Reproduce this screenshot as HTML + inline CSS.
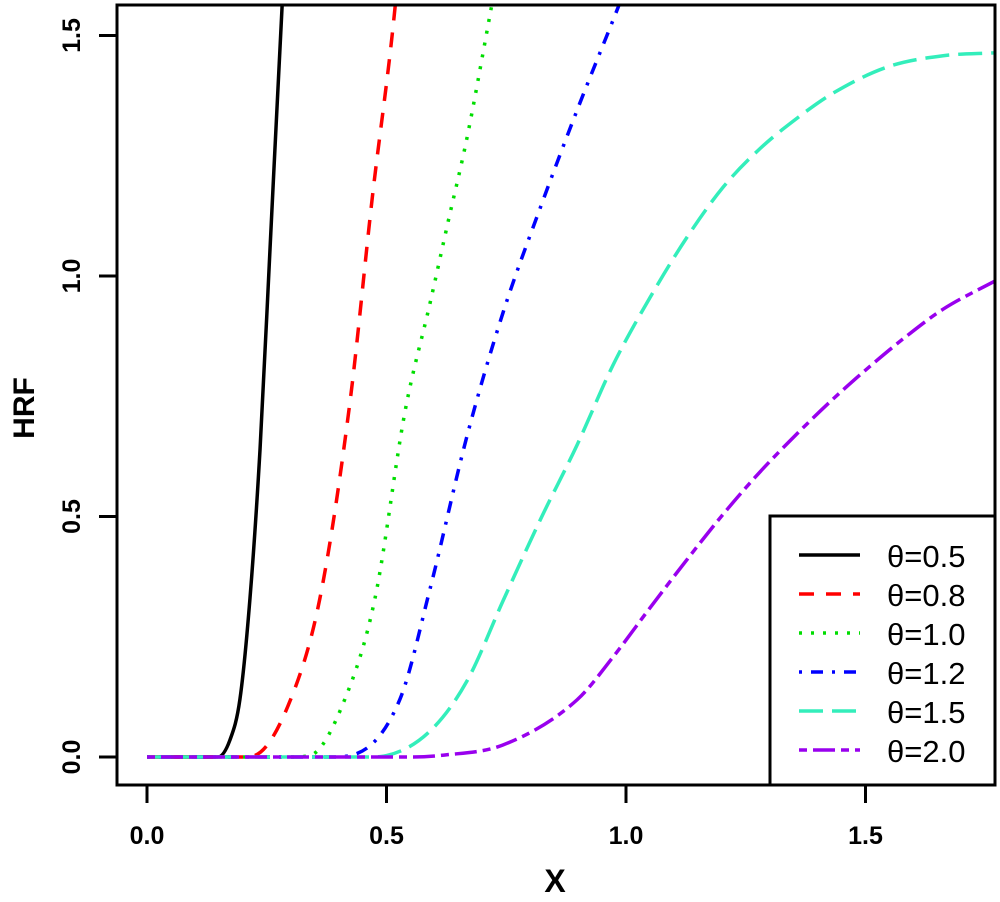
<!DOCTYPE html>
<html><head><meta charset="utf-8"><style>
body{margin:0;background:#fff}
svg text{font-family:"Liberation Sans",Arial,sans-serif}
</style></head><body>
<svg id="chart" width="1000" height="897" viewBox="0 0 1000 897" xmlns="http://www.w3.org/2000/svg">
<defs><clipPath id="clip"><rect x="117" y="6" width="878" height="779"/></clipPath></defs>
<g id="axes"></g>
<g id="series" clip-path="url(#clip)"></g>
<rect x="117" y="5" width="878" height="780" fill="none" stroke="#000" stroke-width="3"/>
<text x="555" y="892" font-size="32" font-weight="bold" text-anchor="middle">X</text>
<text transform="translate(34,408) rotate(-90)" font-size="30" font-weight="bold" text-anchor="middle">HRF</text>
<g id="legend">
<rect x="770" y="516" width="225" height="269" fill="#fff" stroke="#000" stroke-width="3"/>
</g>
</svg>
<script>
const xTicks=[0.0,0.5,1.0,1.5];
const yTicks=[0.0,0.5,1.0,1.5];
const thetas=["0.5","0.8","1.0","1.2","1.5","2.0"];
const colors=["#000000","#ff0000","#00dd00","#0000ff","#33eebb","#9900ee"];
const dashes=["none","15 12","3 9","3 9 12 9","24 9","8 6 22 6"];
const s05x=[0,0.14,0.148,0.173,0.194,0.215,0.236,0.257,0.282,0.29];
const s05y=[0,0,0.0,0.035,0.12,0.33,0.64,1.06,1.56,1.7];
const s08x=[0,0.2,0.225,0.30,0.361,0.424,0.47,0.518,0.53];
const s08y=[0,0,0.003,0.12,0.33,0.74,1.16,1.56,1.7];
const s10x=[0,0.3,0.34,0.413,0.476,0.539,0.591,0.628,0.668,0.714,0.73];
const s10y=[0,0,0.003,0.12,0.33,0.72,0.944,1.11,1.287,1.532,1.62];
const s12x=[0,0.38,0.424,0.528,0.591,0.668,0.743,0.82,0.898,0.973,1.0];
const s12y=[0,0,0.003,0.12,0.35,0.667,0.923,1.139,1.345,1.532,1.6];
const s15x=[0,0.46,0.50,0.591,0.668,0.743,0.82,0.898,0.973,1.05,1.127,1.203,1.28,1.357,1.432,1.547,1.662,1.77];
const s15y=[0,0,0.003,0.054,0.158,0.324,0.491,0.649,0.815,0.955,1.08,1.185,1.265,1.328,1.38,1.435,1.458,1.464];
const s20x=[0,0.55,0.62,0.743,0.898,0.973,1.05,1.127,1.203,1.28,1.357,1.432,1.509,1.587,1.662,1.775];
const s20y=[0,0,0.004,0.025,0.119,0.208,0.31,0.41,0.505,0.593,0.672,0.744,0.812,0.876,0.931,0.992];
const seriesX=[s05x,s08x,s10x,s12x,s15x,s20x];
const seriesY=[s05y,s08y,s10y,s12y,s15y,s20y];
const NS="http://www.w3.org/2000/svg";
const sx=v=>147+479*v, sy=v=>757-481*v;
const axes=document.getElementById('axes');
function mk(tag,attrs,parent){const e=document.createElementNS(NS,tag);for(const k in attrs)e.setAttribute(k,attrs[k]);parent.appendChild(e);return e;}
xTicks.forEach(t=>{
 const l=mk('line',{x1:sx(t),x2:sx(t),y1:785,y2:803,stroke:'#000','stroke-width':3},axes);
 
 
 const tx=mk('text',{x:sx(t),y:844,'font-size':25,'font-weight':'bold','text-anchor':'middle'},axes);
 tx.textContent=t.toFixed(1);
 
 
});
yTicks.forEach(t=>{
 const l=mk('line',{x1:99,x2:117,y1:sy(t),y2:sy(t),stroke:'#000','stroke-width':3},axes);
 
 
 const tx=mk('text',{x:0,y:0,'font-size':25,'font-weight':'bold','text-anchor':'middle',transform:`translate(80,${sy(t)}) rotate(-90)`},axes);
 tx.textContent=t.toFixed(1);
 
 
});
// monotone cubic (Fritsch-Carlson) in pixel space
function pathFor(xs,ys){
 const X=xs.map(sx),Y=ys.map(sy),n=X.length;
 const d=[],m=new Array(n);
 for(let i=0;i<n-1;i++)d.push((Y[i+1]-Y[i])/(X[i+1]-X[i]));
 m[0]=d[0];m[n-1]=d[n-2];
 for(let i=1;i<n-1;i++)m[i]=(d[i-1]*d[i]<=0)?0:(d[i-1]+d[i])/2;
 for(let i=0;i<n-1;i++){
  if(d[i]===0){m[i]=0;m[i+1]=0;continue;}
  const a=m[i]/d[i],b=m[i+1]/d[i],s=a*a+b*b;
  if(s>9){const t=3/Math.sqrt(s);m[i]=t*a*d[i];m[i+1]=t*b*d[i];}
 }
 let p=`M${X[0]},${Y[0]}`;
 for(let i=0;i<n-1;i++){
  const h=(X[i+1]-X[i])/3;
  p+=` C${X[i]+h},${Y[i]+m[i]*h} ${X[i+1]-h},${Y[i+1]-m[i+1]*h} ${X[i+1]},${Y[i+1]}`;
 }
 return p;
}
const sg=document.getElementById('series');
seriesX.forEach((xs,i)=>{
 const p=mk('path',{d:pathFor(xs,seriesY[i]),fill:'none',stroke:colors[i],'stroke-width':3.5,'stroke-dasharray':dashes[i]},sg);
 
 
});
const lg=document.getElementById('legend');
thetas.forEach((t,i)=>{
 const y=555+39*i;
 const l=mk('line',{x1:799,x2:860,y1:y,y2:y,stroke:colors[i],'stroke-width':3.5,'stroke-dasharray':dashes[i]},lg);
 
 
 const tx=mk('text',{x:887,y:y+12,'font-size':31},lg);
 tx.textContent='θ='+t;
 
 
});
</script>
</body></html>
